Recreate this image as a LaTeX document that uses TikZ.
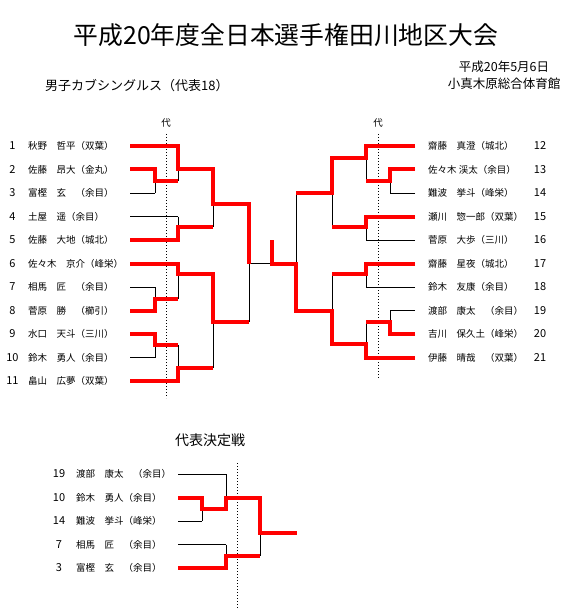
\documentclass[tikz,border=0pt]{standalone}
\usepackage{fontspec}
\setmainfont{Noto Sans CJK JP}
\usetikzlibrary{positioning}

\begin{document}
\begin{tikzpicture}[x=1pt, y=-1pt,
        win/.style={red, line width=4pt},   %Sieger
        lose/.style={black, line width=0.9pt},
        daiguide/.style={black, line width=0.9pt, dash pattern=on 1pt off 2pt},
        entry/.style={font=\fontsize{9.5}{11}\selectfont, inner sep=0pt},
        nr/.style={font=\fontsize{11}{12}\selectfont, inner sep=0pt}]
        \useasboundingbox (0,0) rectangle (579,612);
        %Ueberschriften
        \node[font=\fontsize{24.8}{30}\selectfont] (titel) at (286,35) {平成20年度全日本選手権田川地区大会};
        \node[font=\fontsize{12.5}{14}\selectfont] (datum) at (504,67) {平成20年5月6日};
        \node[font=\fontsize{12.5}{14}\selectfont] (halle) at (504,84) {小真木原総合体育館};
        \node[font=\fontsize{13}{15}\selectfont, anchor=west, inner sep=0pt] (klasse) at (45,86) {男子カブシングルス（代表18）};
        \node[font=\fontsize{14}{16}\selectfont] (kettei) at (210,440) {代表決定戦};
        %Teilnehmer links
        \foreach \n/\y/\name in {1/146/秋野　哲平（双葉）, 2/169.5/佐藤　昂大（金丸）, 3/193/富樫　玄　（余目）,
                4/216.5/土屋　遥（余目）, 5/240/佐藤　大地（城北）, 6/263.5/佐々木　京介（峰栄）,
                7/287/相馬　匠　（余目）, 8/310.5/菅原　勝　（櫛引）, 9/334/水口　天斗（三川）,
                10/357.5/鈴木　勇人（余目）, 11/381/畠山　広夢（双葉）} {
            \node[nr] (ln\n) at (12.5,\y) {\n};
            \node[entry, anchor=west] (lname\n) at (28,\y) {\name};
        }
        %Teilnehmer rechts
        \foreach \n/\y/\name in {12/146/齋藤　真澄（城北）, 13/169.5/佐々木 渓太（余目）, 14/193/難波　挙斗（峰栄）,
                15/216.5/瀬川　惣一郎（双葉）, 16/240/菅原　大歩（三川）, 17/263.5/齋藤　星夜（城北）,
                18/287/鈴木　友康（余目）, 19/310.5/渡部　康太　（余目）, 20/334/吉川　保久土（峰栄）,
                21/357.5/伊藤　晴哉　（双葉）} {
            \node[nr] (rn\n) at (540,\y) {\n};
            \node[entry, anchor=west] (rname\n) at (428,\y) {\name};
        }
        %Teilnehmer Entscheidung
        \foreach \n/\y/\name in {19/474/渡部　康太　（余目）, 10/497.5/鈴木　勇人（余目）, 14/521/難波　挙斗（峰栄）,
                7/544.5/相馬　匠　（余目）, 3/568/富樫　玄　（余目）} {
            \node[nr] (kn\n) at (59,\y) {\n};
            \node[entry, anchor=west] (kname\n) at (76,\y) {\name};
        }
        %Hilfslinien Vertreter
        \draw[daiguide] (166,134) -- (166,398);
        \draw[daiguide] (378,134) -- (378,378);
        \draw[daiguide] (237,463) -- (237,608);
        \node[entry] (dail) at (166,123) {代};
        \node[entry] (dair) at (378,123) {代};
        %Linien der Teilnehmer
        \foreach \y/\e in {146/178, 169.5/155, 193/155, 216.5/178, 240/178, 263.5/178,
                287/155, 310.5/155, 334/155, 357.5/155, 381/178}
            \draw[lose] (130,\y) -- (\e,\y);
        \foreach \y/\e in {146/366, 169.5/390, 193/390, 216.5/366, 240/366, 263.5/366,
                287/366, 310.5/390, 334/390, 357.5/366}
            \draw[lose] (415,\y) -- (\e,\y);
        \foreach \y/\e in {474/226, 497.5/202, 521/202, 544.5/226, 568/226}
            \draw[lose] (178,\y) -- (\e,\y);
        %Spiele: x / oben / unten / Abzweig / weiter bis
        \foreach \x/\a/\b/\j/\e in {155/169.5/193/181/178, 178/146/181/169.5/213, 178/216.5/240/227/213,
                213/169.5/227/204/249, 155/287/310.5/299/178, 178/263.5/299/274/213,
                155/334/357.5/345/178, 178/345/381/368/213, 213/274/368/322/249,
                249/204/322/263.5/272,
                390/169.5/193/181/366, 366/146/181/158/332, 366/216.5/240/227/332,
                332/158/227/193/296, 366/263.5/287/274/332, 390/310.5/334/322/366,
                366/322/357.5/344/332, 332/274/344/310.5/296, 296/193/310.5/263.5/272,
                202/497.5/521/509/226, 226/474/509/497.5/260, 226/544.5/568/556/260,
                260/497.5/556/533/297} {
            \draw[lose] (\x,\a) -- (\x,\b);
            \draw[lose] (\x,\j) -- (\e,\j);
        }
        %Siegerwege
        \draw[win] (130,146) -- (178,146) -- (178,169.5) -- (213,169.5) -- (213,204) -- (249,204) -- (249,263.5);
        \draw[win] (130,169.5) -- (155,169.5) -- (155,181) -- (178,181);
        \draw[win] (130,240) -- (178,240) -- (178,227) -- (213,227);
        \draw[win] (130,263.5) -- (178,263.5) -- (178,274) -- (213,274) -- (213,322) -- (249,322);
        \draw[win] (130,310.5) -- (155,310.5) -- (155,299) -- (178,299);
        \draw[win] (130,334) -- (155,334) -- (155,345) -- (178,345);
        \draw[win] (130,381) -- (178,381) -- (178,368) -- (213,368);
        \draw[win] (415,146) -- (366,146) -- (366,158) -- (332,158) -- (332,193) -- (296,193);
        \draw[win] (415,169.5) -- (390,169.5) -- (390,181) -- (366,181);
        \draw[win] (415,216.5) -- (366,216.5) -- (366,227) -- (332,227);
        \draw[win] (415,263.5) -- (366,263.5) -- (366,274) -- (332,274);
        \draw[win] (415,334) -- (390,334) -- (390,322) -- (366,322);
        \draw[win] (415,357.5) -- (366,357.5) -- (366,344) -- (332,344) -- (332,310.5) -- (296,310.5)
            -- (296,263.5) -- (272,263.5) -- (272,240);
        \draw[win] (178,497.5) -- (202,497.5) -- (202,509) -- (226,509) -- (226,497.5) -- (260,497.5)
            -- (260,533) -- (297,533);
        \draw[win] (178,568) -- (226,568) -- (226,556) -- (260,556);
    \end{tikzpicture}
\end{document}
